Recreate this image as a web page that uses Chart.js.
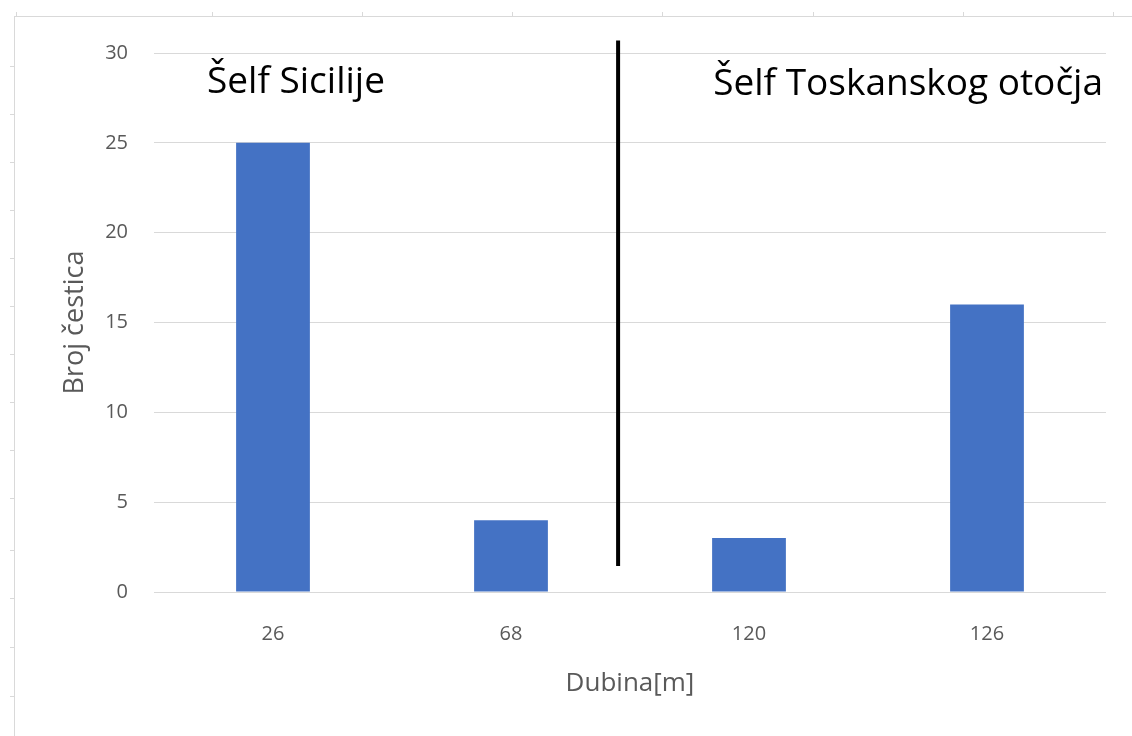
<!DOCTYPE html>
<html lang="hr">
<head>
  <meta charset="UTF-8" />
  <title>Broj čestica po dubini</title>
  <script src="https://cdn.jsdelivr.net/npm/chart.js"></script>
  <style>
    html, body { margin: 0; padding: 0; background: #fff; }
    #wrap { position: relative; width: 1132px; height: 736px; overflow: hidden; }
    /* faint spreadsheet cell borders behind the chart */
    .sheet-top { position: absolute; left: 14px; top: 16px; width: 1118px; height: 1px; background: #d9d9d9; }
    .sheet-left { position: absolute; left: 14px; top: 16px; width: 1px; height: 720px; background: #d9d9d9; }
    .tick-h { position: absolute; top: 12px; width: 1px; height: 4px; background: #d9d9d9; }
    .tick-v { position: absolute; left: 10px; width: 4px; height: 1px; background: #d9d9d9; }
    canvas { position: absolute; left: 0; top: 0; }
  </style>
</head>
<body>
  <div id="wrap">
    <div class="sheet-top"></div>
    <div class="sheet-left"></div>
    <canvas id="chart" width="1132" height="736"></canvas>
  </div>

  <script>
    // data
    const depths = ['26', '68', '120', '126'];
    const particleCounts = [25, 4, 3, 16];
    const yTicks = [0, 5, 10, 15, 20, 25, 30];

    // region labels and the separator between them
    const regionLeft = 'Šelf Sicilije';
    const regionRight = 'Šelf Toskanskog otočja';
    const separatorAt = 1.45;       // category index
    const separatorRange = [1.45, 30.7]; // value range

    // spreadsheet cell ticks
    const wrap = document.getElementById('wrap');
    [16, 212, 362, 512, 662, 813, 963, 1113].forEach(x => {
      const d = document.createElement('div');
      d.className = 'tick-h';
      d.style.left = x + 'px';
      wrap.appendChild(d);
    });
    [66, 114, 162, 210, 258, 306, 354, 402, 450, 498, 550, 598, 647, 696].forEach(y => {
      const d = document.createElement('div');
      d.className = 'tick-v';
      d.style.top = y + 'px';
      wrap.appendChild(d);
    });

    const FONT = '"Open Sans", Lato, sans-serif';

    const overlay = {
      id: 'overlay',
      afterDatasetsDraw(chart) {
        const { ctx, chartArea, scales } = chart;
        ctx.save();
        // separator line
        const x = scales.x.getPixelForValue(separatorAt);
        ctx.strokeStyle = '#000';
        ctx.lineWidth = 4;
        ctx.beginPath();
        ctx.moveTo(x, scales.y.getPixelForValue(separatorRange[1]));
        ctx.lineTo(x, scales.y.getPixelForValue(separatorRange[0]));
        ctx.stroke();

        // region labels
        ctx.fillStyle = '#000';
        ctx.font = '37px ' + FONT;
        ctx.textBaseline = 'alphabetic';
        ctx.textAlign = 'left';
        ctx.fillText(regionLeft, chartArea.left + 53, chartArea.top + 40);
        ctx.textAlign = 'right';
        ctx.fillText(regionRight, chartArea.right - 3, chartArea.top + 42);
        ctx.restore();
      }
    };

    new Chart(document.getElementById('chart'), {
      type: 'bar',
      data: {
        labels: depths,
        datasets: [{
          label: 'Broj čestica',
          data: particleCounts,
          backgroundColor: '#4472C4',
          categoryPercentage: 1,
          barPercentage: 0.31
        }]
      },
      options: {
        responsive: false,
        animation: false,
        layout: { padding: { top: 53, right: 26, left: 0, bottom: 0 } },
        plugins: {
          legend: { display: false },
          tooltip: { enabled: false }
        },
        scales: {
          x: {
            grid: { display: false },
            border: { display: false },
            ticks: { color: '#595959', font: { family: FONT, size: 20 }, padding: 22 },
            title: {
              display: true,
              text: 'Dubina[m]',
              color: '#595959',
              font: { family: FONT, size: 26 },
              padding: { top: 0, bottom: 37 }
            },
            afterFit(scale) { scale.height = 144; }
          },
          y: {
            min: 0,
            max: 30,
            afterBuildTicks(scale) { scale.ticks = yTicks.map(v => ({ value: v })); },
            grid: { color: '#d9d9d9', lineWidth: 1, drawTicks: false },
            border: { display: false },
            ticks: { color: '#595959', font: { family: FONT, size: 20 }, padding: 26 },
            title: {
              display: true,
              text: 'Broj čestica',
              color: '#595959',
              font: { family: FONT, size: 27 },
              padding: { top: 59, bottom: 0 }
            },
            afterFit(scale) { scale.width = 154; }
          }
        }
      },
      plugins: [overlay]
    });
  </script>
</body>
</html>
